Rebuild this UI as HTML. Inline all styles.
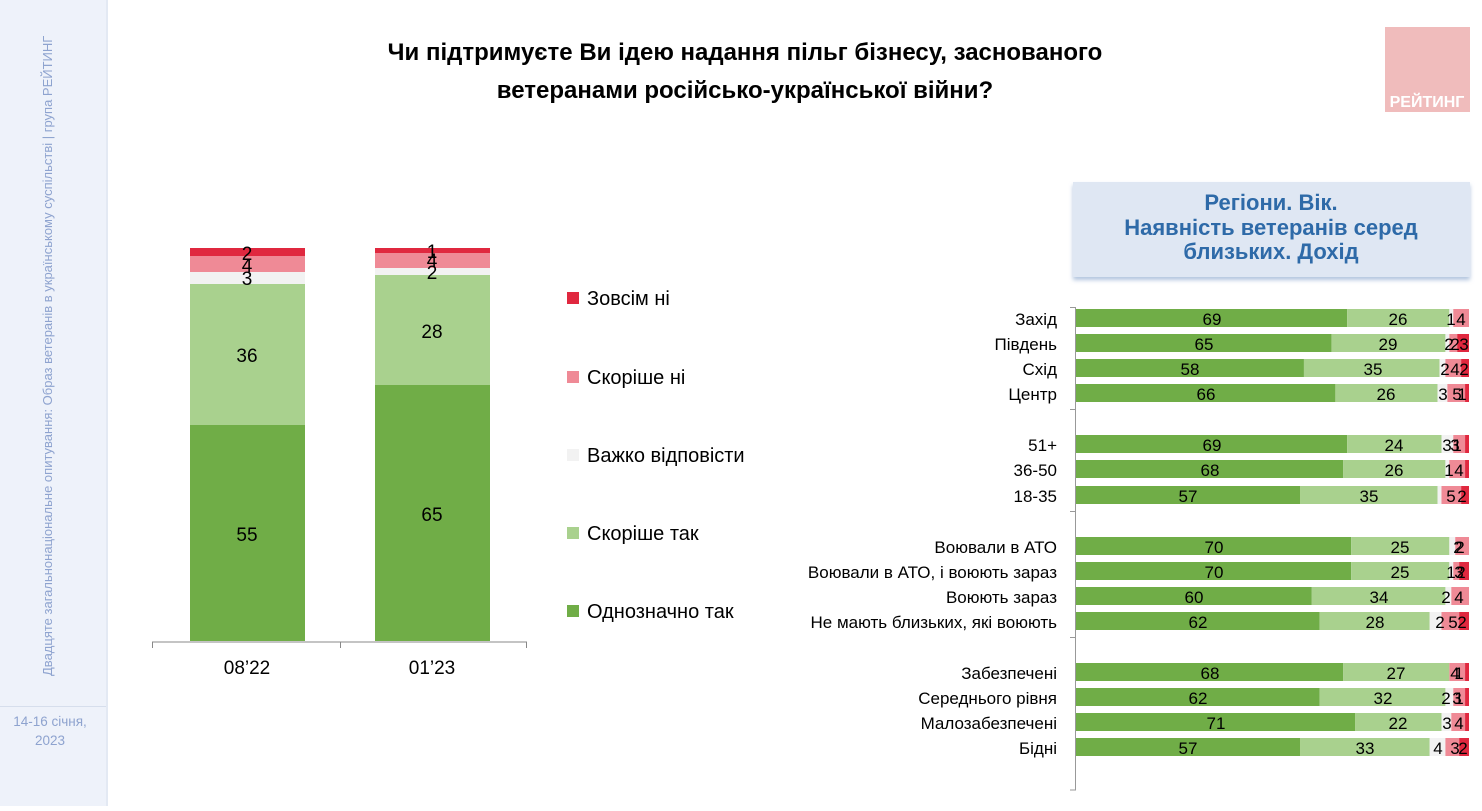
<!DOCTYPE html>
<html><head><meta charset="utf-8"><style>
body{margin:0;width:1482px;height:806px;overflow:hidden;background:#fff;font-family:"Liberation Sans",sans-serif;}
</style></head><body>
<svg width="1482" height="806" xmlns="http://www.w3.org/2000/svg" font-family="Liberation Sans, sans-serif">
<defs><filter id="sh" x="-5%" y="-10%" width="110%" height="130%"><feDropShadow dx="0" dy="3" stdDeviation="2" flood-color="#9fb6d6" flood-opacity="0.8"/></filter></defs>
<rect x="0" y="0" width="106" height="806" fill="#eef2fa"/>
<rect x="106" y="0" width="2" height="806" fill="#e3e9f3"/>
<rect x="0" y="706" width="106" height="1" fill="#d6deec"/>
<text transform="translate(52,676) rotate(-90)" font-size="13" fill="#8ea3cf">Двадцяте загальнонаціональне опитування: Образ ветеранів в українському суспільстві | група РЕЙТИНГ</text>
<text x="50" y="726" font-size="13.5" fill="#8ea3cf" text-anchor="middle">14-16 січня,</text>
<text x="50" y="745" font-size="13.5" fill="#8ea3cf" text-anchor="middle">2023</text>
<text x="745" y="60" font-size="24" font-weight="bold" text-anchor="middle">Чи підтримуєте Ви ідею надання пільг бізнесу, заснованого</text>
<text x="745" y="98" font-size="24" font-weight="bold" text-anchor="middle">ветеранами російсько-української війни?</text>
<rect x="1385" y="27" width="85" height="85" fill="#f0bcbc"/>
<text x="1427" y="107" font-size="16" font-weight="bold" fill="#fff" text-anchor="middle">РЕЙТИНГ</text>
<rect x="1073" y="182" width="397" height="95" fill="#dfe7f3" filter="url(#sh)"/>
<g font-size="22" font-weight="bold" fill="#2e6aa8" text-anchor="middle">
<text x="1271" y="210">Регіони. Вік.</text>
<text x="1271" y="235">Наявність ветеранів серед</text>
<text x="1271" y="259">близьких. Дохід</text></g>
<rect x="190" y="425" width="115" height="216" fill="#70ad47"/>
<rect x="190" y="284" width="115" height="141" fill="#a9d18e"/>
<rect x="190" y="272" width="115" height="12" fill="#f2f2f2"/>
<rect x="190" y="256" width="115" height="16" fill="#ef8a96"/>
<rect x="190" y="248" width="115" height="8" fill="#e0283f"/>
<rect x="375" y="385" width="115" height="256" fill="#70ad47"/>
<rect x="375" y="275" width="115" height="110" fill="#a9d18e"/>
<rect x="375" y="268" width="115" height="7" fill="#f2f2f2"/>
<rect x="375" y="253" width="115" height="15" fill="#ef8a96"/>
<rect x="375" y="248" width="115" height="5" fill="#e0283f"/>
<g font-size="19" text-anchor="middle">
<text x="247" y="541">55</text><text x="247" y="362">36</text>
<text x="247" y="285">3</text><text x="247" y="272">4</text><text x="247" y="260">2</text>
<text x="432" y="521">65</text><text x="432" y="338">28</text>
<text x="432" y="279">2</text><text x="432" y="267">4</text><text x="432" y="258">1</text>
</g>
<g stroke="#888" stroke-width="1" fill="none"><path d="M152 642H527M152.5 642V648M340.5 642V648M526.5 642V648"/></g>
<g font-size="19" text-anchor="middle"><text x="247" y="674">08’22</text><text x="432" y="674">01’23</text></g>
<rect x="567" y="292" width="12" height="12" fill="#e0283f"/>
<rect x="567" y="371" width="12" height="12" fill="#ef8a96"/>
<rect x="567" y="449" width="12" height="12" fill="#f2f2f2"/>
<rect x="567" y="527" width="12" height="12" fill="#a9d18e"/>
<rect x="567" y="605" width="12" height="12" fill="#70ad47"/>
<g font-size="20"><text x="587" y="305">Зовсім ні</text><text x="587" y="384">Скоріше ні</text><text x="587" y="462">Важко відповісти</text><text x="587" y="540">Скоріше так</text><text x="587" y="618">Однозначно так</text></g>
<path d="M1070 307.5H1075.5V790H1070M1070 409.5H1075.5M1070 511.5H1075.5M1070 637.5H1075.5" stroke="#999" fill="none"/>
<g font-size="17" text-anchor="end">
<text x="1057" y="325">Захід</text><text x="1057" y="350">Південь</text><text x="1057" y="375">Схід</text><text x="1057" y="400">Центр</text>
<text x="1057" y="451">51+</text><text x="1057" y="476">36-50</text><text x="1057" y="502">18-35</text>
<text x="1057" y="553">Воювали в АТО</text><text x="1057" y="578">Воювали в АТО, і воюють зараз</text><text x="1057" y="603">Воюють зараз</text><text x="1057" y="628">Не мають близьких, які воюють</text>
<text x="1057" y="679">Забезпечені</text><text x="1057" y="704">Середнього рівня</text><text x="1057" y="729">Малозабезпечені</text><text x="1057" y="754">Бідні</text>
</g>
<g transform="translate(1076,0) scale(3.93,1)">
<g transform="translate(0,309)"><rect width="69" height="18" fill="#70ad47"/><rect x="69" width="26" height="18" fill="#a9d18e"/><rect x="95" width="1" height="18" fill="#f2f2f2"/><rect x="96" width="4" height="18" fill="#ef8a96"/></g>
<g transform="translate(0,334)"><rect width="65" height="18" fill="#70ad47"/><rect x="65" width="29" height="18" fill="#a9d18e"/><rect x="94" width="1" height="18" fill="#f2f2f2"/><rect x="95" width="2" height="18" fill="#ef8a96"/><rect x="97" width="3" height="18" fill="#e0283f"/></g>
<g transform="translate(0,359)"><rect width="58" height="18" fill="#70ad47"/><rect x="58" width="34.5" height="18" fill="#a9d18e"/><rect x="92.5" width="1.5" height="18" fill="#f2f2f2"/><rect x="94" width="4" height="18" fill="#ef8a96"/><rect x="98" width="2" height="18" fill="#e0283f"/></g>
<g transform="translate(0,384)"><rect width="66" height="18" fill="#70ad47"/><rect x="66" width="26" height="18" fill="#a9d18e"/><rect x="92" width="2.5" height="18" fill="#f2f2f2"/><rect x="94.5" width="4.5" height="18" fill="#ef8a96"/><rect x="99" width="1" height="18" fill="#e0283f"/></g>
<g transform="translate(0,435)"><rect width="69" height="18" fill="#70ad47"/><rect x="69" width="24" height="18" fill="#a9d18e"/><rect x="93" width="3" height="18" fill="#f2f2f2"/><rect x="96" width="3" height="18" fill="#ef8a96"/><rect x="99" width="1" height="18" fill="#e0283f"/></g>
<g transform="translate(0,460)"><rect width="68" height="18" fill="#70ad47"/><rect x="68" width="26" height="18" fill="#a9d18e"/><rect x="94" width="1" height="18" fill="#f2f2f2"/><rect x="95" width="4" height="18" fill="#ef8a96"/><rect x="99" width="1" height="18" fill="#e0283f"/></g>
<g transform="translate(0,486)"><rect width="57" height="18" fill="#70ad47"/><rect x="57" width="35" height="18" fill="#a9d18e"/><rect x="92" width="1" height="18" fill="#f2f2f2"/><rect x="93" width="5" height="18" fill="#ef8a96"/><rect x="98" width="2" height="18" fill="#e0283f"/></g>
<g transform="translate(0,537)"><rect width="70" height="18" fill="#70ad47"/><rect x="70" width="25" height="18" fill="#a9d18e"/><rect x="95" width="1.5" height="18" fill="#f2f2f2"/><rect x="96.5" width="3.5" height="18" fill="#ef8a96"/></g>
<g transform="translate(0,562)"><rect width="70" height="18" fill="#70ad47"/><rect x="70" width="25" height="18" fill="#a9d18e"/><rect x="95" width="1" height="18" fill="#f2f2f2"/><rect x="96" width="1.5" height="18" fill="#ef8a96"/><rect x="97.5" width="2.5" height="18" fill="#e0283f"/></g>
<g transform="translate(0,587)"><rect width="60" height="18" fill="#70ad47"/><rect x="60" width="34" height="18" fill="#a9d18e"/><rect x="94" width="1.5" height="18" fill="#f2f2f2"/><rect x="95.5" width="4.5" height="18" fill="#ef8a96"/></g>
<g transform="translate(0,612)"><rect width="62" height="18" fill="#70ad47"/><rect x="62" width="28" height="18" fill="#a9d18e"/><rect x="90" width="3" height="18" fill="#f2f2f2"/><rect x="93" width="4.5" height="18" fill="#ef8a96"/><rect x="97.5" width="2.5" height="18" fill="#e0283f"/></g>
<g transform="translate(0,663)"><rect width="68" height="18" fill="#70ad47"/><rect x="68" width="27" height="18" fill="#a9d18e"/><rect x="95" width="4" height="18" fill="#ef8a96"/><rect x="99" width="1" height="18" fill="#e0283f"/></g>
<g transform="translate(0,688)"><rect width="62" height="18" fill="#70ad47"/><rect x="62" width="32" height="18" fill="#a9d18e"/><rect x="94" width="2" height="18" fill="#f2f2f2"/><rect x="96" width="3" height="18" fill="#ef8a96"/><rect x="99" width="1" height="18" fill="#e0283f"/></g>
<g transform="translate(0,713)"><rect width="71" height="18" fill="#70ad47"/><rect x="71" width="22" height="18" fill="#a9d18e"/><rect x="93" width="2.5" height="18" fill="#f2f2f2"/><rect x="95.5" width="3.5" height="18" fill="#ef8a96"/><rect x="99" width="1" height="18" fill="#e0283f"/></g>
<g transform="translate(0,738)"><rect width="57" height="18" fill="#70ad47"/><rect x="57" width="33" height="18" fill="#a9d18e"/><rect x="90" width="4" height="18" fill="#f2f2f2"/><rect x="94" width="3.5" height="18" fill="#ef8a96"/><rect x="97.5" width="2.5" height="18" fill="#e0283f"/></g>
</g>
<g font-size="17" text-anchor="middle">
<text x="1212" y="325">69</text><text x="1398" y="325">26</text><text x="1451" y="325">1</text><text x="1461" y="325">4</text>
<text x="1204" y="350">65</text><text x="1388" y="350">29</text><text x="1449" y="350">2</text><text x="1455" y="350">2</text><text x="1464" y="350">3</text>
<text x="1190" y="375">58</text><text x="1373" y="375">35</text><text x="1445" y="375">2</text><text x="1455" y="375">4</text><text x="1464" y="375">2</text>
<text x="1206" y="400">66</text><text x="1386" y="400">26</text><text x="1443" y="400">3</text><text x="1457" y="400">5</text><text x="1462" y="400">1</text>
<text x="1212" y="451">69</text><text x="1394" y="451">24</text><text x="1447" y="451">3</text><text x="1455" y="451">3</text><text x="1457" y="451">1</text>
<text x="1210" y="476">68</text><text x="1394" y="476">26</text><text x="1449" y="476">1</text><text x="1459" y="476">4</text>
<text x="1188" y="502">57</text><text x="1369" y="502">35</text><text x="1451" y="502">5</text><text x="1462" y="502">2</text>
<text x="1214" y="553">70</text><text x="1400" y="553">25</text><text x="1458" y="553">2</text><text x="1460" y="553">2</text>
<text x="1214" y="578">70</text><text x="1400" y="578">25</text><text x="1451" y="578">1</text><text x="1459" y="578">3</text><text x="1461" y="578">2</text>
<text x="1194" y="603">60</text><text x="1379" y="603">34</text><text x="1446" y="603">2</text><text x="1459" y="603">4</text>
<text x="1198" y="628">62</text><text x="1375" y="628">28</text><text x="1440" y="628">2</text><text x="1453" y="628">5</text><text x="1462" y="628">2</text>
<text x="1210" y="679">68</text><text x="1396" y="679">27</text><text x="1455" y="679">4</text><text x="1459" y="679">1</text>
<text x="1198" y="704">62</text><text x="1383" y="704">32</text><text x="1446" y="704">2</text><text x="1457" y="704">3</text><text x="1459" y="704">1</text>
<text x="1216" y="729">71</text><text x="1398" y="729">22</text><text x="1447" y="729">3</text><text x="1459" y="729">4</text>
<text x="1188" y="754">57</text><text x="1365" y="754">33</text><text x="1438" y="754">4</text><text x="1455" y="754">3</text><text x="1463" y="754">2</text>
</g>
</svg>
</body></html>
